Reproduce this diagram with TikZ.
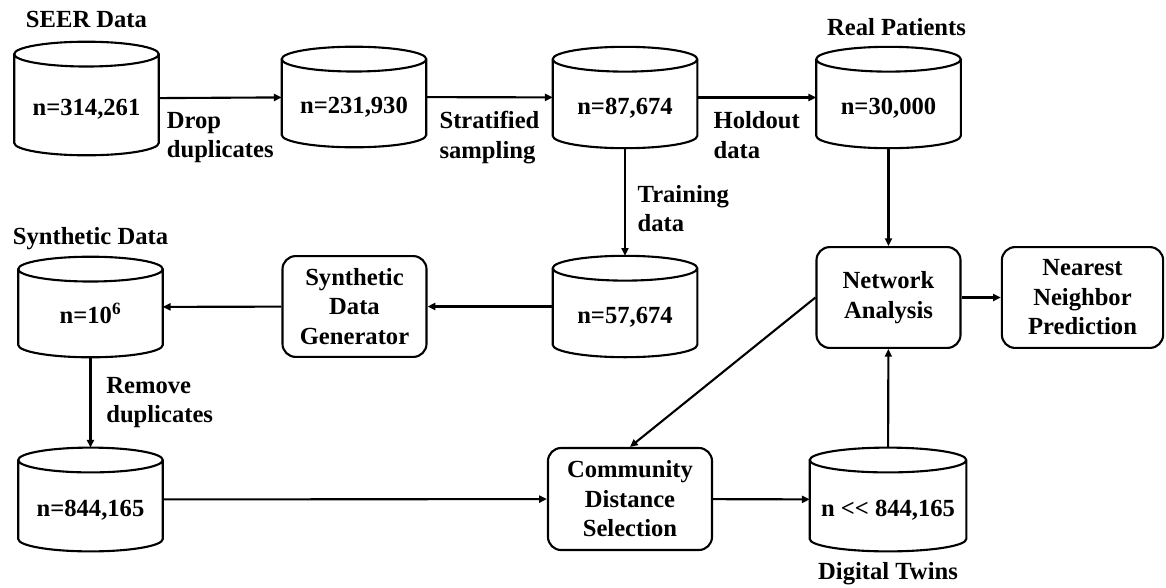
\documentclass[tikz,border=0pt]{standalone}
\usepackage{fontspec}
\setmainfont{Liberation Serif}
\usepackage{tikz}
\usetikzlibrary{arrows.meta,positioning,calc}
\tikzstyle{dataset} = [
    rectangle,
    minimum width=3.6cm,
    minimum height=2.52cm,
    inner sep=0pt,
    text height=0.84cm,
    text depth=0pt
]
\tikzstyle{outline} = [
    line width=1.5pt
]
\tikzstyle{process} = [
    rectangle,
    rounded corners=0.33cm,
    minimum width=3.6cm,
    minimum height=2.52cm,
    inner sep=0pt,
    align=center,
    draw,
    line width=1.5pt
]
\tikzstyle{arrow} = [
    line width=1.5pt,
    -{Triangle[length=5.5pt,width=5pt]}
]
\tikzstyle{note} = [
    inner sep=0pt,
    align=left
]
\tikzstyle{title} = [
    inner sep=0pt,
    text depth=0pt
]
\newcommand{\drawdataset}[1]{%
    \draw[outline] let \p1=(#1.north west), \p2=(#1.south east) in
        (\x1,{\y1-0.31cm}) -- (\x1,{\y2+0.31cm})
        arc[start angle=180, end angle=360, x radius={0.5*(\x2-\x1)}, y radius=0.31cm]
        -- (\x2,{\y1-0.31cm})
        arc[start angle=0, end angle=360, x radius={0.5*(\x2-\x1)}, y radius=0.31cm];
}

\begin{document}
\begin{tikzpicture}[
        x=0.025cm, y=0.025cm,
        every node/.style={
            font=\bfseries\fontsize{17.5}{21}\selectfont
        }
    ]
        \useasboundingbox (0,0) rectangle (1166,-587);

        % data sets
        \node[dataset, minimum height=2.825cm] (seer) at (86.5,-98.5) {n=314,261};
        \node[dataset, minimum height=2.5cm] (dedup) at (354,-97) {n=231,930};
        \node[dataset] (sample) at (625,-97.5) {n=87,674};
        \node[dataset] (real) at (888.5,-97.5) {n=30,000};
        \node[dataset] (train) at (625,-306.5) {n=57,674};
        \node[dataset, minimum height=2.5cm] (synth) at (90.5,-307) {n=10\textsuperscript{6}};
        \node[dataset, minimum height=2.58cm] (clean) at (90.5,-499.5) {n=844,165};
        \node[dataset, minimum width=3.9cm, minimum height=2.58cm] (twins) at (888,-499.5) {n <{}< 844,165};

        \foreach \db in {seer,dedup,sample,real,train,synth,clean,twins}
            \drawdataset{\db};

        % processing steps
        \node[process] (gen) at (354.5,-306.5) {Synthetic\\Data\\Generator};
        \node[process] (net) at (888.5,-297.5) {Network\\Analysis};
        \node[process, minimum width=4.03cm] (nn) at (1082.5,-297.5) {Nearest\\Neighbor\\Prediction};
        \node[process, minimum width=4.1cm, minimum height=2.55cm] (cds) at (630,-499) {Community\\Distance\\Selection};

        % titles
        \node[title, above=0.36cm of seer] (seertitle) {SEER Data};
        \node[title, above=0.275cm of real, xshift=0.2cm] (realtitle) {Real Patients};
        \node[title, above=0.29cm of synth] (synthtitle) {Synthetic Data};
        \node[title, below=0.28cm of twins] (twinstitle) {Digital Twins};

        \draw[arrow] (seer) -- node[note, below=0.33cm] (droplbl) {Drop\\duplicates} (dedup);
        \draw[arrow] (dedup) -- node[note, below=0.33cm] (stratlbl) {Stratified\\sampling} (sample);
        \draw[arrow] (sample) -- node[note, below=0.33cm] (holdlbl) {Holdout\\data} (real);
        \draw[arrow] (sample) -- node[note, right=0.29cm, yshift=-0.16cm] (trainlbl) {Training\\data} (train);
        \draw[arrow] (train) -- (gen);
        \draw[arrow] (gen) -- (synth);
        \draw[arrow] (synth) -- node[note, right=0.37cm] (removelbl) {Remove\\duplicates} (clean);
        \draw[arrow] (clean) -- (cds);
        \draw[arrow] (cds) -- (twins);
        \draw[arrow] (twins) -- (net);
        \draw[arrow] (real) -- (net);
        \draw[arrow] (net) -- (nn);
        \draw[arrow] (net.west) -- (cds.north);
    \end{tikzpicture}
\end{document}
